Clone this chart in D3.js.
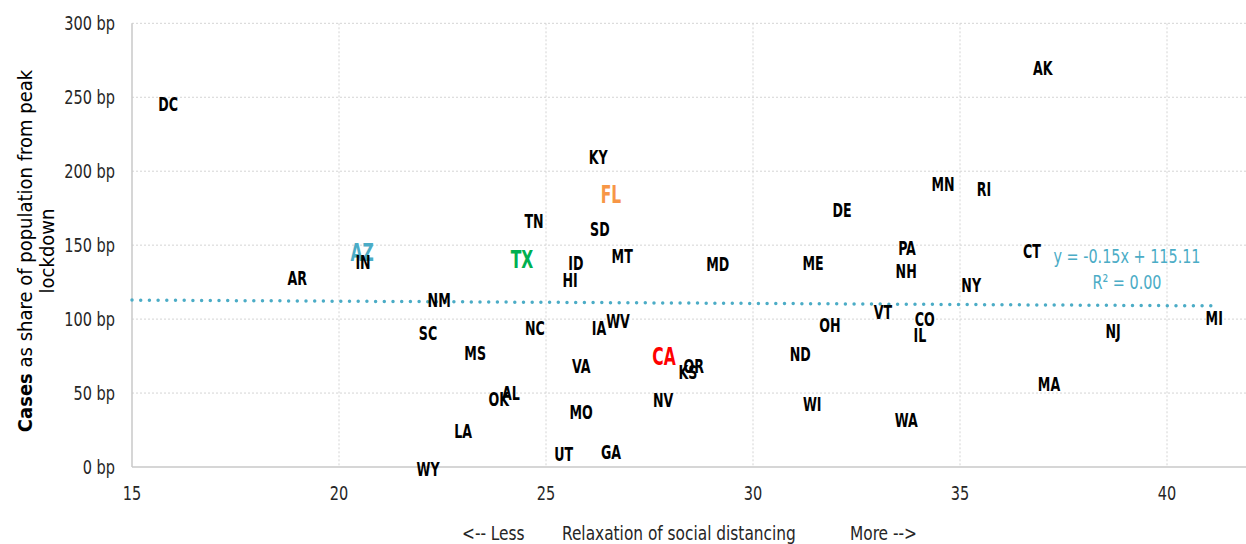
<!DOCTYPE html>
<html>
<head>
<meta charset="utf-8">
<script src="https://cdn.jsdelivr.net/npm/d3@7"></script>
<style>
  body { margin: 0; background: #fff; }
  svg { display: block; font-family: "Liberation Sans Narrow", "DejaVu Sans Condensed", sans-serif; }
</style>
</head>
<body>
<svg id="chart" width="1246" height="544"></svg>
<script>
// state labels, relaxation index (x), cases in bp (y)
const states = ["DC","AK","KY","FL","MN","RI","DE","TN","SD","AZ","IN","TX","PA","CT","MT","ID","MD","ME","AR","NH","HI","NY","NM","VT","OH","CO","MI","IA","WV","NC","SC","IL","NJ","MS","ND","CA","VA","OR","KS","MA","AL","OK","NV","WI","MO","WA","LA","UT","GA","WY"];
const relax = [15.87,37.0,26.26,26.57,34.59,35.58,32.15,24.71,26.30,20.56,20.58,24.42,33.72,36.74,26.84,25.72,29.15,31.45,18.99,33.70,25.58,35.27,22.42,33.14,31.86,34.15,41.14,26.28,26.74,24.73,22.15,34.03,38.70,23.29,31.14,27.85,25.85,28.57,28.43,37.15,24.15,23.86,27.83,31.43,25.85,33.70,23.0,25.43,26.57,22.15];
const cases = [245.4,269.8,209.6,184.6,191.3,188.0,173.8,166.3,160.9,145.4,138.6,140.6,148.1,146.0,142.7,137.9,137.3,137.9,127.8,132.5,126.4,123.1,112.9,104.8,96.0,100.1,100.7,94.0,98.7,94.0,90.6,89.2,92.0,77.1,76.4,75.1,68.3,68.3,64.2,56.1,50.0,46.0,45.3,42.6,37.2,31.8,24.3,8.8,10.1,-1.4];
const highlight = { AZ: "#4bacc6", TX: "#00b050", FL: "#f79646", CA: "#ff0000" };

const xTicks = [15, 20, 25, 30, 35, 40];
const yTicks = [0, 50, 100, 150, 200, 250, 300];
const trendSlope = -0.15, trendIntercept = 115.11;
const trendX = [15, 41.14];

const svg = d3.select("#chart");
const plotLeft = 132, plotTop = 23.3, plotBottom = 467;

const x = d3.scaleLinear().domain([15, 42]).range([plotLeft, plotLeft + 27 * 41.4]);
const y = d3.scaleLinear().domain([0, 300]).range([plotBottom, plotTop]);

// grid
const grid = svg.append("g")
    .attr("stroke", "#d4d4d4")
    .attr("stroke-width", 1)
    .attr("stroke-dasharray", "2 2");
grid.selectAll("line.h")
  .data(yTicks.filter(d => d > 0))
  .join("line")
    .attr("class", "h")
    .attr("x1", plotLeft).attr("x2", 1246)
    .attr("y1", d => y(d)).attr("y2", d => y(d));
grid.selectAll("line.v")
  .data(xTicks.filter(d => d > 15))
  .join("line")
    .attr("class", "v")
    .attr("x1", d => x(d)).attr("x2", d => x(d))
    .attr("y1", plotTop).attr("y2", plotBottom);

// axes lines
svg.append("line")
    .attr("x1", plotLeft).attr("x2", plotLeft).attr("y1", plotTop).attr("y2", plotBottom)
    .attr("stroke", "#c8c8c8").attr("stroke-width", 1.5);
svg.append("line")
    .attr("x1", plotLeft).attr("x2", 1246).attr("y1", plotBottom).attr("y2", plotBottom)
    .attr("stroke", "#c8c8c8").attr("stroke-width", 1.5);

// tick labels (condensed with a horizontal squeeze)
svg.append("g")
    .attr("font-size", 19)
    .attr("fill", "#262626")
  .selectAll("text")
  .data(yTicks)
  .join("text")
    .attr("transform", d => `translate(${plotLeft - 17},${y(d)}) scale(0.85,1)`)
    .attr("dy", "0.35em")
    .attr("text-anchor", "end")
    .text(d => d + " bp");

svg.append("g")
    .attr("font-size", 19)
    .attr("fill", "#262626")
  .selectAll("text")
  .data(xTicks)
  .join("text")
    .attr("transform", d => `translate(${x(d)},493) scale(0.85,1)`)
    .attr("dy", "0.35em")
    .attr("text-anchor", "middle")
    .text(d => d);

// axis titles
const xtParts = [[462, "<-- Less"], [562, "Relaxation of social distancing"], [850, "More -->"]];
svg.append("g")
    .attr("font-size", 19)
    .attr("fill", "#262626")
  .selectAll("text")
  .data(xtParts)
  .join("text")
    .attr("transform", d => `translate(${d[0]},533) scale(0.9,1)`)
    .attr("dy", "0.35em")
    .text(d => d[1]);

const yt = svg.append("text")
    .attr("transform", "translate(25,251) rotate(-90)")
    .attr("text-anchor", "middle")
    .attr("dy", "0.35em")
    .attr("font-size", 20)
    .attr("fill", "#000");
yt.append("tspan").attr("font-weight", "bold").text("Cases");
yt.append("tspan").text(" as share of population from peak");
svg.append("text")
    .attr("transform", "translate(47,251) rotate(-90)")
    .attr("text-anchor", "middle")
    .attr("dy", "0.35em")
    .attr("font-size", 20)
    .attr("fill", "#000")
    .text("lockdown");

// trendline
svg.append("line")
    .attr("x1", x(trendX[0])).attr("y1", y(trendSlope * trendX[0] + trendIntercept))
    .attr("x2", x(trendX[1])).attr("y2", y(trendSlope * trendX[1] + trendIntercept))
    .attr("stroke", "#4bacc6")
    .attr("stroke-width", 3.5)
    .attr("stroke-linecap", "round")
    .attr("stroke-dasharray", "0 8.7");

svg.append("g")
    .attr("font-size", 20)
    .attr("fill", "#4bacc6")
    .attr("text-anchor", "middle")
  .selectAll("text")
  .data([`y = ${trendSlope}x + ${trendIntercept}`, "R² = 0.00"])
  .join("text")
    .attr("transform", (d, i) => `translate(1127,${256 + i * 26}) scale(0.8,1)`)
    .attr("dy", "0.35em")
    .text(d => d);

// state labels
svg.append("g")
    .attr("text-anchor", "middle")
    .attr("font-weight", "bold")
  .selectAll("text")
  .data(states)
  .join("text")
    .attr("transform", (d, i) => `translate(${x(relax[i])},${y(cases[i])}) scale(0.72,1)`)
    .attr("dy", "0.36em")
    .attr("font-size", d => highlight[d] ? 24 : 19.5)
    .attr("fill", d => highlight[d] || "#000")
    .text(d => d);
</script>
</body>
</html>
